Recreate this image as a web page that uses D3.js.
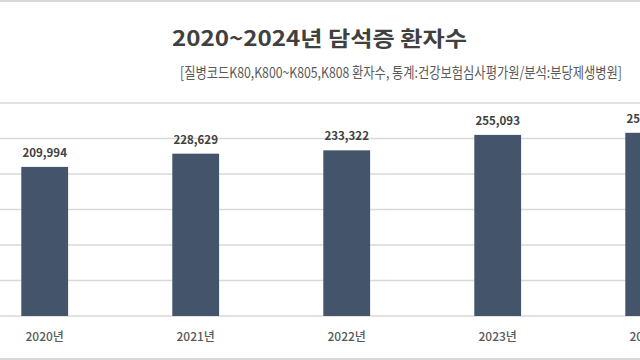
<!DOCTYPE html>
<html><head><meta charset="utf-8">
<script src="https://cdn.jsdelivr.net/npm/d3@7/dist/d3.min.js"></script>
<style>html,body{margin:0;padding:0;background:#fff;overflow:hidden}svg{display:block}</style>
</head><body>
<svg id="c" width="640" height="360"></svg>
<script>
const years = ["2020년","2021년","2022년","2023년","2024년"];
const patients = [209994, 228629, 233322, 255093, 258027];
const yTicks = [0, 50000, 100000, 150000, 200000, 250000, 300000];
const title = "2020~2024년 담석증 환자수";
const subtitle = "[질병코드K80,K800~K805,K808 환자수, 통계:건강보험심사평가원/분석:분당제생병원]";

const svg = d3.select("#c");
const font = "'Noto Sans CJK KR','Noto Sans',sans-serif";

// frame lines
svg.append("line").attr("x1",0).attr("x2",640).attr("y1",1).attr("y2",1).attr("stroke","#d9d9d9").attr("stroke-width",2);
svg.append("line").attr("x1",0).attr("x2",640).attr("y1",359).attr("y2",359).attr("stroke","#d9d9d9").attr("stroke-width",2);

svg.append("text").attr("x",319.5).attr("y",46).attr("text-anchor","middle")
  .attr("font-family",font).attr("font-weight","bold").attr("font-size",21).attr("fill","#404040")
  .attr("textLength",295).attr("lengthAdjust","spacingAndGlyphs").text(title);
svg.append("text").attr("x",401).attr("y",78).attr("text-anchor","middle")
  .attr("font-family",font).attr("font-size",15).attr("fill","#595959")
  .attr("textLength",442).attr("lengthAdjust","spacingAndGlyphs").text(subtitle);

const y = d3.scaleLinear().domain([0,300000]).range([316,103]);
const x = d3.scaleBand().domain(years).range([-30.8,724.2]).paddingInner(0.69).paddingOuter(0.345);

// gridlines
svg.append("g").selectAll("line").data(yTicks).join("line")
  .attr("x1",0).attr("x2",640).attr("y1",d=>y(d)).attr("y2",d=>y(d))
  .attr("stroke","#d9d9d9").attr("stroke-width",1.5);

svg.append("g").selectAll("rect").data(patients).join("rect")
  .attr("x",(d,i)=>x(years[i])).attr("width",x.bandwidth())
  .attr("y",d=>y(d)).attr("height",d=>y(0)-y(d)).attr("fill","#44546a");

svg.append("g").selectAll("text").data(patients).join("text")
  .attr("x",(d,i)=>x(years[i])+x.bandwidth()/2).attr("y",d=>y(d)-10)
  .attr("text-anchor","middle").attr("font-family",font).attr("font-weight","bold")
  .attr("font-size",11.5).attr("fill","#404040").text(d=>d3.format(",")(d));

const xAxis = svg.append("g").attr("transform","translate(0,316)")
  .call(d3.axisBottom(x).tickSize(0).tickPadding(14));
xAxis.select(".domain").remove();
xAxis.selectAll("text").attr("font-family",font).attr("font-size",12).attr("font-weight",500).attr("fill","#595959").attr("dy","0.9em");
</script>
</body></html>
